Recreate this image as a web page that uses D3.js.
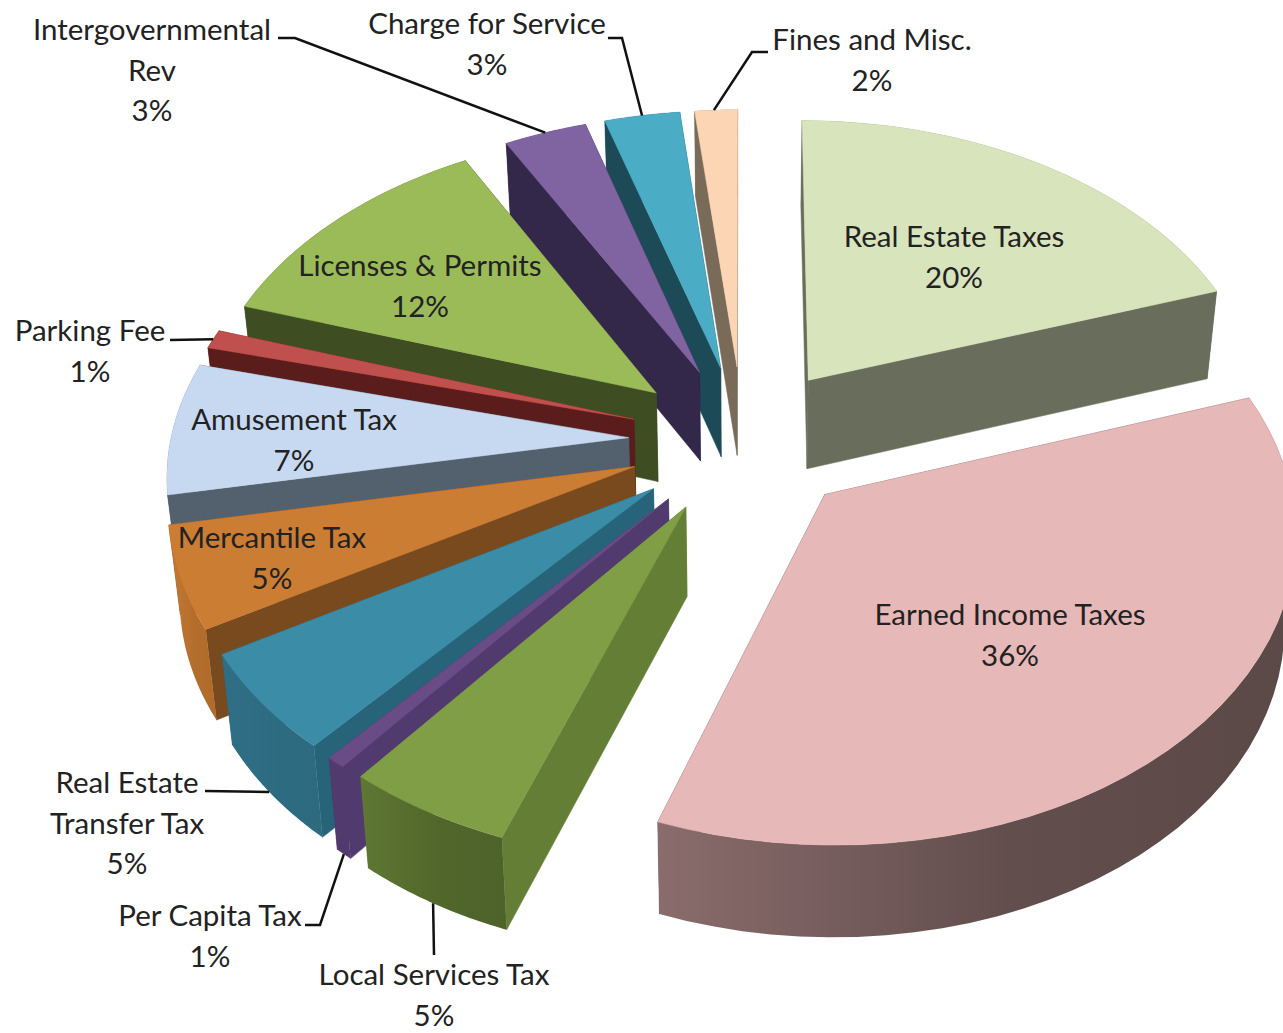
<!DOCTYPE html>
<html>
<head>
<meta charset="utf-8">
<script src="https://cdn.jsdelivr.net/npm/d3@7"></script>
<style>
html, body { margin: 0; padding: 0; background: #fff; overflow: hidden; }
text { font-family: Lato, "Open Sans", sans-serif; font-size: 29.5px; fill: #222; }
</style>
</head>
<body>
<script>
// Data //////////////////////////////////////////////
var categories = ["Real Estate Taxes", "Earned Income Taxes", "Local Services Tax", "Per Capita Tax",
	"Real Estate Transfer Tax", "Mercantile Tax", "Amusement Tax", "Parking Fee", "Licenses & Permits",
	"Intergovernmental Rev", "Charge for Service", "Fines and Misc."];
var shares = [19.8, 35.7, 5.2, 0.6, 5.3, 5.4, 7.0, 1.0, 12.0, 3.3, 3.0, 1.7];

var topColors = ["#d8e4bc", "#e6b8b7", "#7f9e46", "#694b86", "#3b8ca6", "#cc7d34", "#c6d9f1", "#c0504d", "#9bbb59", "#8064a2", "#4bacc6", "#fcd5b5"];
var cutColors = ["#686e5b", "#5e4b4a", "#647e36", "#503a6e", "#27647a", "#784a1e", "#53606e", "#5a1d1b", "#3f4d22", "#33274a", "#1d4a57", "#7a6a58"];
var wallLeft = ["#686e5b", "#8a6c6c", "#5f7733", "#503a6e", "#2f6f86", "#c47a33", "#53606e", "#5a1d1b", "#3f4d22", "#33274a", "#1d4a57", "#7a6a58"];
var wallRight = ["#686e5b", "#5b4947", "#4e6329", "#503a6e", "#2d6a80", "#b06b2b", "#53606e", "#5a1d1b", "#3f4d22", "#33274a", "#1d4a57", "#7a6a58"];

// Layout //////////////////////////////////////////////
var width = 1283, height = 1033;
var center = {x: 743, y: 440};
var explode = 0.25;
var persp = 0.108;
var depth = 89;

// ground plane -> screen
var xScale = d3.scaleLinear().domain([-1, 1]).range([-458, 458]);
var yScale = d3.scaleLinear().domain([-1, 1]).range([300, -300]);

function project(u, v, z)
{
	var w = 1 + persp * v;
	var x = center.x + xScale(u) / w;
	var y = center.y + yScale(v) / w;
	if (z)
	{
		x = center.x + (x - center.x) * 0.98;
		y = y + depth / (1 + 0.03 * v);
	}
	return [x, y];
}

var label = [
	{lines: ["Real Estate Taxes"], x: 954, y: 237},
	{lines: ["Earned Income Taxes"], x: 1010, y: 615},
	{lines: ["Local Services Tax"], x: 434, y: 975},
	{lines: ["Per Capita Tax"], x: 210, y: 916},
	{lines: ["Real Estate", "Transfer Tax"], x: 127, y: 783},
	{lines: ["Mercantile Tax"], x: 272, y: 538},
	{lines: ["Amusement Tax"], x: 294, y: 420},
	{lines: ["Parking Fee"], x: 90, y: 331},
	{lines: ["Licenses & Permits"], x: 420, y: 266},
	{lines: ["Intergovernmental", "Rev"], x: 152, y: 30},
	{lines: ["Charge for Service"], x: 487, y: 24},
	{lines: ["Fines and Misc."], x: 872, y: 40}
];

// leader lines: slice, place along the rim (0-1), on rim bottom or not, then the elbow points
var leaders = [
	{i: 2, t: 0.5, z: true, pts: [[434, 955]]},
	{i: 3, t: 0.5, z: true, pts: [[320, 925], [305, 925]]},
	{i: 4, t: 0.52, z: true, pts: [[205, 791]]},
	{i: 7, t: 0.5, z: false, pts: [[170, 340]]},
	{i: 9, t: 0.5, z: false, pts: [[295, 38], [278, 38]]},
	{i: 10, t: 0.5, z: false, pts: [[622, 38], [608, 38]]},
	{i: 11, t: 0.45, z: false, pts: [[752, 52], [768, 52]]}
];

// Pie //////////////////////////////////////////////
var pie = d3.pie().sort(null).value(function(d){ return d; });
var slices = pie(shares).map(function(d, i)
{
	var mid = (d.startAngle + d.endAngle) / 2;
	return {
		i: i,
		start: d.startAngle,
		end: d.endAngle,
		ou: explode * Math.sin(mid),
		ov: explode * Math.cos(mid)
	};
});

function rimPoint(s, a, z)
{
	return project(s.ou + Math.sin(a), s.ov + Math.cos(a), z);
}

function rim(s, z)
{
	return d3.range(0, 41).map(function(k)
	{
		return rimPoint(s, s.start + (s.end - s.start) * k / 40, z);
	});
}

var line = d3.line();
var svg = d3.select("body").append("svg").attr("width", width).attr("height", height);
var defs = svg.append("defs");

slices.forEach(function(s)
{
	var g = defs.append("linearGradient").attr("id", "wall" + s.i);
	g.append("stop").attr("offset", "0%").attr("stop-color", wallLeft[s.i]);
	g.append("stop").attr("offset", "55%").attr("stop-color", d3.interpolateRgb(wallLeft[s.i], wallRight[s.i])(0.85));
	g.append("stop").attr("offset", "100%").attr("stop-color", wallRight[s.i]);
});

// back to front
var drawOrder = [0, 11, 10, 9, 8, 7, 6, 5, 4, 3, 2, 1];

drawOrder.forEach(function(i)
{
	var s = slices[i];
	var apexTop = project(s.ou, s.ov, false);
	var apexBot = project(s.ou, s.ov, true);
	var top = rim(s, false);
	var bot = rim(s, true);
	var g = svg.append("g").attr("class", "slice");

	// cut faces
	[[top[top.length - 1], bot[bot.length - 1]], [top[0], bot[0]]].forEach(function(e)
	{
		g.append("path")
			.attr("d", line([apexTop, e[0], e[1], apexBot]) + "Z")
			.attr("fill", cutColors[i])
			.attr("stroke", cutColors[i])
			.attr("stroke-width", 0.5);
	});

	// rim wall
	g.append("path")
		.attr("d", line(top.concat(bot.slice().reverse())) + "Z")
		.attr("fill", "url(#wall" + i + ")");

	// top face
	g.append("path")
		.attr("d", line([apexTop].concat(top)) + "Z")
		.attr("fill", topColors[i])
		.attr("stroke", topColors[i])
		.attr("stroke-width", 0.5);
});

// Leader lines //////////////////////////////////////////////
leaders.forEach(function(d)
{
	var s = slices[d.i];
	var a = s.start + (s.end - s.start) * d.t;
	svg.append("path")
		.attr("d", line([rimPoint(s, a, d.z)].concat(d.pts)))
		.attr("fill", "none")
		.attr("stroke", "#111")
		.attr("stroke-width", 2.5);
});

// Labels //////////////////////////////////////////////
var pct = d3.format(".0f");
label.forEach(function(d, i)
{
	var rows = d.lines.concat([pct(shares[i]) + "%"]);
	rows.forEach(function(t, k)
	{
		svg.append("text")
			.attr("x", d.x)
			.attr("y", d.y + k * 40.3)
			.attr("dy", "0.35em")
			.attr("text-anchor", "middle")
			.text(t);
	});
});
</script>
</body>
</html>
